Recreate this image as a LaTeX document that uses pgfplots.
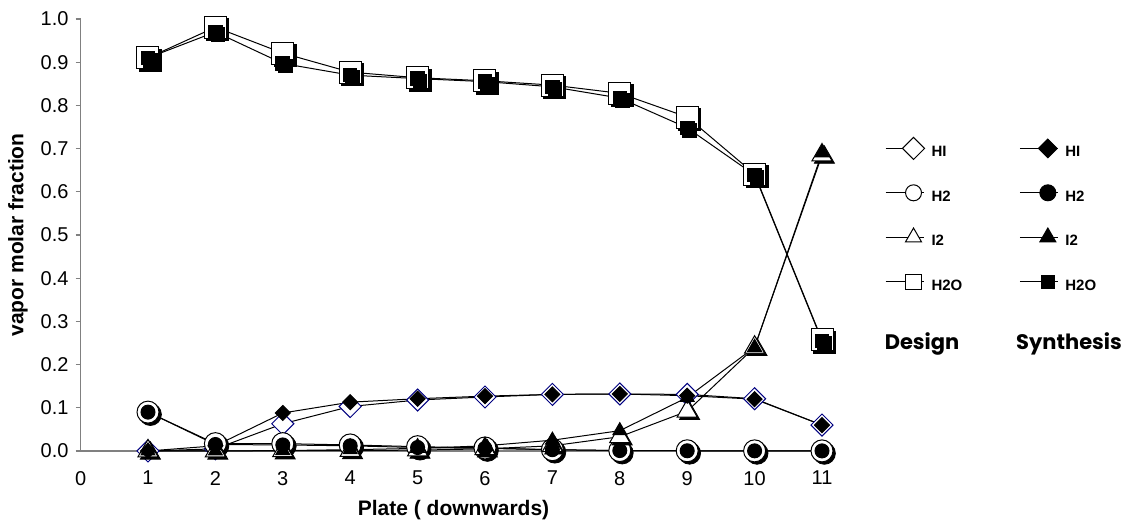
\documentclass[border=0pt]{standalone}
\usepackage{pgfplots}
\usepackage{pgfplotstable}
\pgfplotsset{compat=1.18}
\usepackage{fontspec}
\setmainfont{Liberation Sans}
\newfontfamily\comic{Poppins}
\definecolor{axgray}{RGB}{128,128,128}
\definecolor{navyd}{RGB}{0,0,128}
\newcommand{\lt}[2]{\makebox[#1][l]{\rule{0pt}{5pt}\raisebox{-2.5pt}{\fontsize{7.5}{8}\selectfont\bfseries #2}}}

\pgfplotstableread{
plate HI    H2     I2     H2O
1     0.000 0.090  0.000  0.910
2     0.005 0.017  0.000  0.981
3     0.063 0.017  0.0005 0.921
4     0.103 0.014  0.001  0.877
5     0.118 0.010  0.002  0.864
6     0.125 0.007  0.005  0.857
7     0.131 0.003  0.012  0.847
8     0.132 0.001  0.033  0.828
9     0.131 0.0005 0.092  0.773
10    0.121 0.0003 0.240  0.641
11    0.060 0.0002 0.685  0.257
}\design
\pgfplotstableread{
plate HI    H2     I2     H2O
1     0.000 0.090  0.000  0.910
2     0.012 0.015  0.000  0.970
3     0.088 0.014  0.001  0.897
4     0.113 0.012  0.003  0.870
5     0.121 0.008  0.006  0.862
6     0.127 0.006  0.012  0.855
7     0.131 0.003  0.025  0.843
8     0.132 0.001  0.047  0.817
9     0.128 0.0005 0.124  0.748
10    0.120 0.0003 0.240  0.639
11    0.060 0.0002 0.690  0.255
}\synth

\pgfplotsset{
  ser/.style={black, line width=0.5pt},
  shadow/.style={only marks, black, forget plot, mark options={fill=black, draw=black, xshift=1.2pt, yshift=-1.2pt}},
}

\begin{document}
\begin{tikzpicture}
\useasboundingbox (-40.3pt,-38.5pt) rectangle (525.7pt,225.5pt);
\begin{axis}[
  scale only axis, width=370.7pt, height=216pt,
  xmin=0, xmax=11, ymin=0, ymax=1,
  axis x line*=bottom, axis y line*=left,
  axis line style={axgray, line width=0.6pt},
  xtick={0,1,2,3,4,5,6,7,8,9,10,11},
  ytick={0,0.1,0.2,0.3,0.4,0.5,0.6,0.7,0.8,0.9,1.0},
  x tick style={draw=none},
  y tick style={axgray, line width=0.6pt},
  tick align=outside, major tick length=2.5pt,
  yticklabel style={/pgf/number format/.cd, fixed, fixed zerofill, precision=1},
  /pgf/number format/assume math mode=true,
  tick label style={font=\fontsize{10}{12}\selectfont},
  xticklabel style={yshift=-4pt},
  xlabel={Plate ( downwards)}, ylabel={vapor molar fraction},
  label style={font=\fontsize{10.5}{12}\selectfont\bfseries},
  xlabel style={at={(axis description cs:0.503,-0.1366)}, anchor=center},
  ylabel style={at={(axis description cs:-0.0845,0.5)}, anchor=center},
  clip=false,
  legend columns=2,
  legend style={draw=none, fill=none, inner sep=0pt, outer sep=0pt,
    at={(axis description cs:1.085,0.7282)}, anchor=north west,
    row sep=10.2pt, nodes={inner sep=0pt, outer sep=0pt}, cells={anchor=west},
    /tikz/every odd column/.style={column sep=3.5pt},
    /tikz/every even column/.style={column sep=31.9pt}},
  legend image code/.code={\path[draw=none, fill=none] (0pt,-6pt) rectangle (19pt,6pt);
    \draw[mark repeat=2, mark phase=2, #1] plot coordinates {(0pt,0pt) (14pt,0pt) (19pt,0pt)};},
]
% ---- Design ----
\addplot[ser, forget plot, mark=square*, mark size=3.9pt, mark options={rotate=45, draw=navyd, fill=white}] table[x=plate,y=HI] {\design};
\addplot[shadow, mark=*, mark size=5.5pt] table[x=plate,y=H2] {\design};
\addplot[ser, forget plot, mark=*, mark size=5.5pt, mark options={fill=white}] table[x=plate,y=H2] {\design};
\addplot[shadow, mark=triangle*, mark size=5.8pt] table[x=plate,y=I2] {\design};
\addplot[ser, forget plot, mark=triangle*, mark size=5.8pt, mark options={fill=white}] table[x=plate,y=I2] {\design};
\addplot[shadow, mark=square*, mark size=5.5pt] table[x=plate,y=H2O] {\design};
\addplot[ser, forget plot, mark=square*, mark size=5.5pt, mark options={fill=white}] table[x=plate,y=H2O] {\design};
% ---- Synthesis ----
\addplot[ser, forget plot, mark=square*, mark size=2.65pt, mark options={rotate=45, fill=black}] table[x=plate,y=HI] {\synth};
\addplot[ser, forget plot, mark=*, mark size=3.5pt, mark options={fill=black}] table[x=plate,y=H2] {\synth};
\addplot[ser, forget plot, mark=triangle*, mark size=4pt, mark options={fill=black}] table[x=plate,y=I2] {\synth};
\addplot[shadow, mark=square*, mark size=3.4pt] table[x=plate,y=H2O] {\synth};
\addplot[ser, forget plot, mark=square*, mark size=3.4pt, mark options={fill=black}] table[x=plate,y=H2O] {\synth};
% ---- Legend ----
\addlegendimage{ser, mark=square*, mark size=3.9pt, mark options={rotate=45, draw=black, fill=white}}
\addlegendentry{\lt{12pt}{HI}}
\addlegendimage{ser, mark=square*, mark size=3.3pt, mark options={rotate=45, fill=black}}
\addlegendentry{\lt{12pt}{HI}}
\addlegendimage{ser, mark=*, mark size=4pt, mark options={fill=white}}
\addlegendentry{\lt{12pt}{H2}}
\addlegendimage{ser, mark=*, mark size=4pt, mark options={fill=black}}
\addlegendentry{\lt{12pt}{H2}}
\addlegendimage{ser, mark=triangle*, mark size=4.6pt, mark options={fill=white}}
\addlegendentry{\lt{12pt}{I2}}
\addlegendimage{ser, mark=triangle*, mark size=4.6pt, mark options={fill=black}}
\addlegendentry{\lt{12pt}{I2}}
\addlegendimage{ser, mark=square*, mark size=3.8pt, mark options={fill=white}}
\addlegendentry{\lt{12pt}{H2O}}
\addlegendimage{ser, mark=square*, mark size=3.3pt, mark options={fill=black}}
\addlegendentry{\lt{12pt}{H2O}}
\node[font=\comic\bfseries\fontsize{10.5}{12}\selectfont] at (axis description cs:1.1349,0.2477) {Design};
\node[font=\comic\bfseries\fontsize{10.5}{12}\selectfont] at (axis description cs:1.3332,0.2477) {Synthesis};
\end{axis}
\end{tikzpicture}
\end{document}
